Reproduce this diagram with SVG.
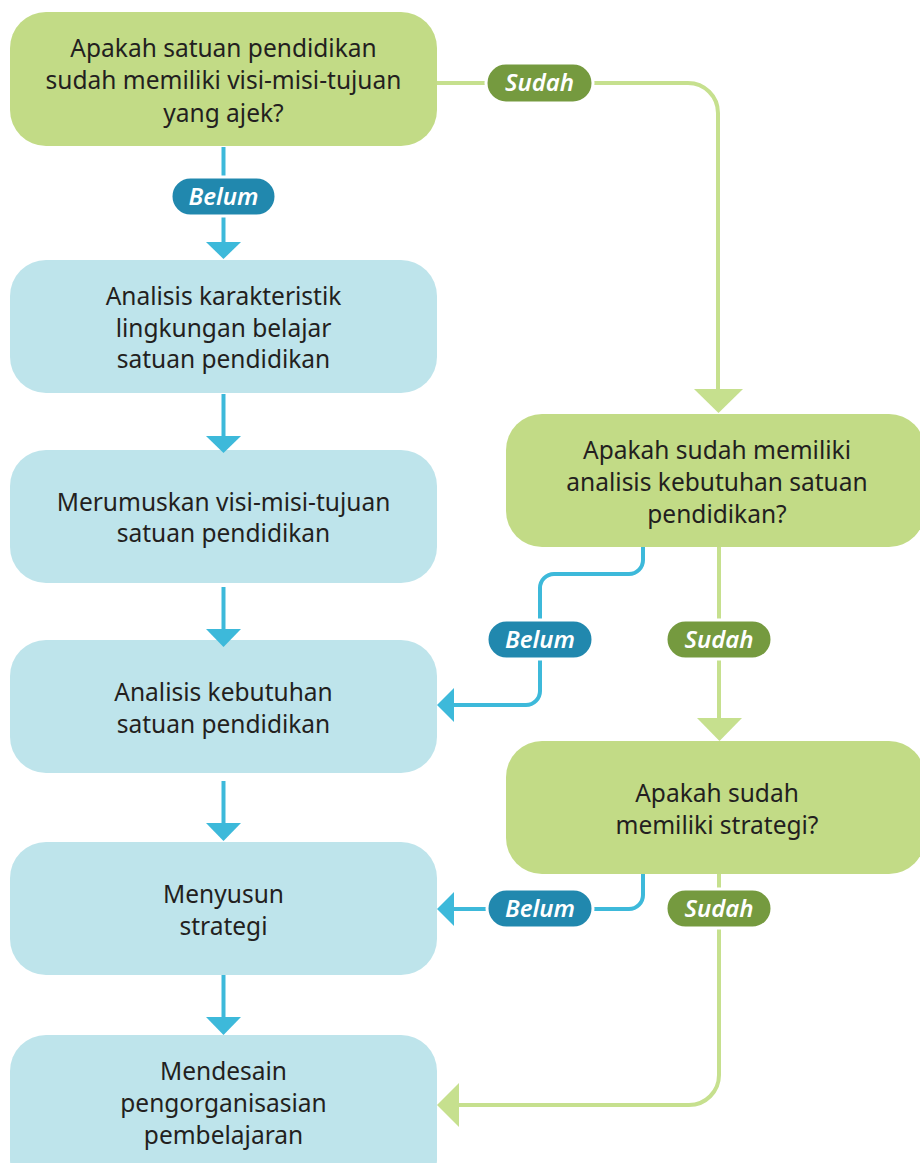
<svg xmlns="http://www.w3.org/2000/svg" width="920" height="1163" viewBox="0 0 920 1163">
<style>
.nb{fill:#BEE4EB}
.ng{fill:#C2DB86}
.t{font-family:"Noto Sans","Open Sans",sans-serif;font-size:24.5px;fill:#231F20;text-anchor:middle}
.lb{fill:#2188AE;stroke:#fff;stroke-width:3}
.lg{fill:#759A3F;stroke:#fff;stroke-width:3}
.lt{font-family:"Noto Sans","Open Sans",sans-serif;font-size:24px;font-style:italic;font-weight:600;fill:#fff;text-anchor:middle}
.cb{fill:none;stroke:#3DB9DA;stroke-width:4}
.cg{fill:none;stroke:#C6E08E;stroke-width:4}
.ab{fill:#3DB9DA}
.ag{fill:#C6E08E}
</style>
<rect width="920" height="1163" fill="#fff"/>
<g id="q1">
  <rect class="ng" x="10" y="12" width="427" height="134" rx="36"/>
  <text class="t" x="223.5" y="57">Apakah satuan pendidikan</text>
  <text class="t" x="223.5" y="89">sudah memiliki visi-misi-tujuan</text>
  <text class="t" x="223.5" y="122">yang ajek?</text>
</g>
<g id="n1">
  <rect class="nb" x="10" y="260" width="427" height="133" rx="36"/>
  <text class="t" x="223.5" y="305">Analisis karakteristik</text>
  <text class="t" x="223.5" y="337">lingkungan belajar</text>
  <text class="t" x="223.5" y="368">satuan pendidikan</text>
</g>
<g id="n2">
  <rect class="nb" x="10" y="450" width="427" height="133" rx="36"/>
  <text class="t" x="223.5" y="511">Merumuskan visi-misi-tujuan</text>
  <text class="t" x="223.5" y="542">satuan pendidikan</text>
</g>
<g id="n3">
  <rect class="nb" x="10" y="640" width="427" height="133" rx="36"/>
  <text class="t" x="223.5" y="701">Analisis kebutuhan</text>
  <text class="t" x="223.5" y="733">satuan pendidikan</text>
</g>
<g id="n4">
  <rect class="nb" x="10" y="842" width="427" height="133" rx="36"/>
  <text class="t" x="223.5" y="903">Menyusun</text>
  <text class="t" x="223.5" y="935">strategi</text>
</g>
<g id="n5">
  <rect class="nb" x="10" y="1035" width="427" height="160" rx="36"/>
  <text class="t" x="223.5" y="1080">Mendesain</text>
  <text class="t" x="223.5" y="1112">pengorganisasian</text>
  <text class="t" x="223.5" y="1144">pembelajaran</text>
</g>
<g id="q2">
  <rect class="ng" x="506" y="414" width="419" height="133" rx="36"/>
  <text class="t" x="717" y="459">Apakah sudah memiliki</text>
  <text class="t" x="717" y="491">analisis kebutuhan satuan</text>
  <text class="t" x="717" y="523">pendidikan?</text>
</g>
<g id="q3">
  <rect class="ng" x="506" y="741" width="419" height="133" rx="36"/>
  <text class="t" x="717" y="802">Apakah sudah</text>
  <text class="t" x="717" y="834">memiliki strategi?</text>
</g>
<g id="connectors">
  <path class="cb" d="M223.5 147V244"/>
  <polygon class="ab" points="206,242 241,242 223.5,259"/>
  <path class="cb" d="M223.5 394V438"/>
  <polygon class="ab" points="206,436 241,436 223.5,453"/>
  <path class="cb" d="M223.5 587V631"/>
  <polygon class="ab" points="206,629 241,629 223.5,647"/>
  <path class="cb" d="M223.5 781V825"/>
  <polygon class="ab" points="206,823 241,823 223.5,841"/>
  <path class="cb" d="M223.5 975V1019"/>
  <polygon class="ab" points="206,1017 241,1017 223.5,1035"/>
  <path class="cg" d="M437 83H688A30 30 0 0 1 718 113V391"/>
  <polygon class="ag" points="694,389 743,389 718.5,413"/>
  <path class="cb" d="M643 547V560A14 14 0 0 1 629 574H554A14 14 0 0 0 540 588V691A14 14 0 0 1 526 705H452"/>
  <polygon class="ab" points="454,688 454,722 437,705"/>
  <path class="cg" d="M719 547V720"/>
  <polygon class="ag" points="697,718 742,718 719.5,741"/>
  <path class="cb" d="M643 874V895A14 14 0 0 1 629 909H452"/>
  <polygon class="ab" points="454,892 454,926 437,909"/>
  <path class="cg" d="M719 874V1075A30 30 0 0 1 689 1105H457"/>
  <polygon class="ag" points="459,1083 459,1127 437,1105"/>
  <rect class="lb" x="171" y="177" width="105" height="39" rx="19.5"/>
  <text class="lt" x="223.5" y="205">Belum</text>
  <rect class="lg" x="486" y="63" width="107" height="40" rx="20"/>
  <text class="lt" x="539.5" y="91">Sudah</text>
  <rect class="lb" x="487" y="620" width="106" height="39" rx="19.5"/>
  <text class="lt" x="540" y="648">Belum</text>
  <rect class="lg" x="666" y="620" width="106" height="39" rx="19.5"/>
  <text class="lt" x="719" y="648">Sudah</text>
  <rect class="lb" x="487" y="889" width="106" height="39" rx="19.5"/>
  <text class="lt" x="540" y="917">Belum</text>
  <rect class="lg" x="666" y="889" width="106" height="39" rx="19.5"/>
  <text class="lt" x="719" y="917">Sudah</text>
</g>
</svg>
